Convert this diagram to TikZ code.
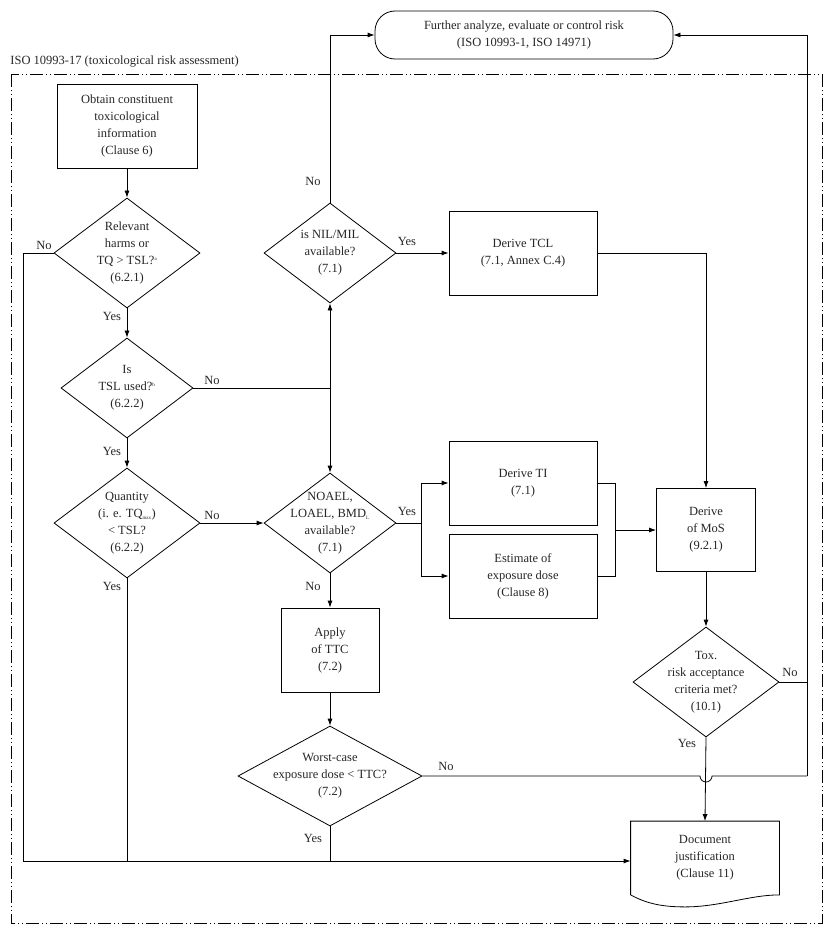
\documentclass[tikz,border=0pt]{standalone}
\usepackage{fontspec}
\setmainfont{Liberation Serif}
\usetikzlibrary{positioning}
\usetikzlibrary{shapes.geometric}
\usetikzlibrary{arrows.meta}
\usetikzlibrary{calc}

\begin{document}
\begin{tikzpicture}[x=1pt, y=-1pt, line width=0.8pt, >={Latex[length=7pt,width=5pt]},
        every node/.style={font=\fontsize{12.5}{17}\selectfont, align=center, text=black!85},
        box/.style={rectangle, draw, inner sep=0pt},
        dia/.style={diamond, draw, inner sep=0pt},
        txt/.style={align=center, inner sep=0pt},
        yn/.style={inner sep=1pt}]
        \useasboundingbox (0,0) rectangle (830,939);

        % frame
        \draw[dash pattern=on 13pt off 3pt on 1pt off 3pt on 1pt off 3pt] (11,74) rectangle (822,923);
        \node[anchor=south west, inner sep=0pt] (title) at (10,68) {ISO 10993-17 (toxicological risk assessment)};

        \node[draw, rounded corners=20pt, minimum width=298pt, minimum height=48pt] (further) at (524,35)
            {Further analyze, evaluate or control risk\\(ISO 10993-1, ISO 14971)};

        \node[box, minimum width=140pt, minimum height=84pt] (obtain) at (127,126)
            {Obtain constituent\\toxicological\\information\\(Clause 6)};
        \node[dia, minimum width=146pt, minimum height=110pt,
            label={[txt]center:Relevant\\harms or\\TQ > TSL?\textsuperscript{\tiny a}\\(6.2.1)}] (relev) at (127,253) {};
        \node[dia, minimum width=132pt, minimum height=100pt,
            label={[txt]center:Is\\TSL used?\textsuperscript{\tiny b}\\(6.2.2)}] (tsl) at (127,388) {};
        \node[dia, minimum width=146pt, minimum height=110pt,
            label={[txt]center:Quantity\\(i. e. TQ\textsubscript{\tiny max})\\< TSL?\\(6.2.2)}] (quant) at (127,523) {};

        \node[dia, minimum width=132pt, minimum height=100pt,
            label={[txt]center:is NIL/MIL\\available?\\(7.1)}] (nil) at (330,253) {};
        \node[dia, minimum width=132pt, minimum height=100pt,
            label={[txt]center:NOAEL,\\LOAEL, BMD\textsubscript{\tiny L}\\available?\\(7.1)}] (noael) at (330,523) {};
        \node[box, minimum width=98pt, minimum height=84pt] (ttc) at (330,650) {Apply\\of TTC\\(7.2)};
        \node[dia, minimum width=184pt, minimum height=100pt,
            label={[txt]center:Worst-case\\exposure dose < TTC?\\(7.2)}] (worst) at (330,776) {};

        \node[box, minimum width=148pt, minimum height=84pt] (tcl) at (523,253) {Derive TCL\\(7.1, Annex C.4)};
        \node[box, minimum width=148pt, minimum height=84pt] (ti) at (523,483) {Derive TI\\(7.1)};
        \node[box, minimum width=148pt, minimum height=84pt] (est) at (523,576) {Estimate of\\exposure dose\\(Clause 8)};
        \node[box, minimum width=99pt, minimum height=83pt] (mos) at (706,530) {Derive\\of MoS\\(9.2.1)};
        \node[dia, minimum width=146pt, minimum height=110pt,
            label={[txt]center:Tox.\\risk acceptance\\criteria met?\\(10.1)}] (tox) at (706,682) {};
        \node[minimum width=148pt, minimum height=73pt, inner sep=0pt] (doc) at (705,858) {Document\\justification\\(Clause 11)};
        \draw (doc.south west) -- (doc.north west) -- (doc.north east) -- (doc.south east)
            .. controls +(-30,0) and +(35,0) .. ($(doc.south)+(-20,12)$)
            .. controls +(-25,0) and +(15,8) .. (doc.south west);

        % junction points
        \coordinate (jtsl) at (330,388);
        \coordinate (jnil) at (330,35);
        \coordinate (jtcl) at (706,253);
        \coordinate (jleft) at (23,253);
        \coordinate (jbot) at (23,861);
        \coordinate (jq) at (127,861);
        \coordinate (jw) at (330,861);
        \coordinate (jsplit) at (421,523);
        \coordinate (jti) at (421,483);
        \coordinate (jest) at (421,576);
        \coordinate (rti) at (615,483);
        \coordinate (rest) at (615,576);
        \coordinate (rmid) at (615,530);
        \coordinate (jret) at (807,35);
        \coordinate (jtox) at (807,682);
        \coordinate (jwr) at (807,776);
        \coordinate (hop1) at (700,776);

        % connectors
        \draw[->] (obtain) -- (relev);
        \draw[->] (relev) -- (tsl);
        \draw[->] (tsl) -- (quant);
        \draw[->] (quant) -- (noael);
        \draw (tsl.east) -- (jtsl);
        \draw[->] (jtsl) -- (nil.south);
        \draw[->] (jtsl) -- (noael.north);
        \draw[->] (nil.north) -- (jnil) -- (further.west);
        \draw[->] (nil) -- (tcl);
        \draw[->] (tcl.east) -- (jtcl) -- (mos.north);
        \draw (noael.east) -- (jsplit);
        \draw[->] (jti) -- (ti.west);
        \draw[->] (jest) -- (est.west);
        \draw (jti) -- (jest);
        \draw (ti.east) -- (rti) -- (rest) -- (est.east);
        \draw[->] (rmid) -- (mos.west);
        \draw[->] (mos) -- (tox);
        \draw[->] (tox.south) -- (doc.north);
        \draw[->] (noael) -- (ttc);
        \draw[->] (ttc) -- (worst);
        \draw (relev.west) -- (jleft) -- (jbot);
        \draw[->] (jbot) -- (doc.west |- jbot);
        \draw (quant.south) -- (jq);
        \draw (worst.south) -- (jw);
        \draw (tox.east) -- (jtox);
        \draw (worst.east) -- (hop1) arc[start angle=180, end angle=0, x radius=6pt, y radius=-6pt] -- (jwr);
        \draw[->] (jwr) -- (jret) -- (further.east);

        % labels
        \node[yn] (l1) at (44,245) {No};
        \node[yn] (l2) at (112,316) {Yes};
        \node[yn] (l3) at (212,380) {No};
        \node[yn] (l4) at (112,451) {Yes};
        \node[yn] (l5) at (212,515) {No};
        \node[yn] (l6) at (112,586) {Yes};
        \node[yn] (l7) at (313,181) {No};
        \node[yn] (l8) at (407,241) {Yes};
        \node[yn] (l9) at (407,511) {Yes};
        \node[yn] (l10) at (313,586) {No};
        \node[yn] (l11) at (446,766) {No};
        \node[yn] (l12) at (313,838) {Yes};
        \node[yn] (l13) at (790,672) {No};
        \node[yn] (l14) at (687,743) {Yes};
\end{tikzpicture}
\end{document}
